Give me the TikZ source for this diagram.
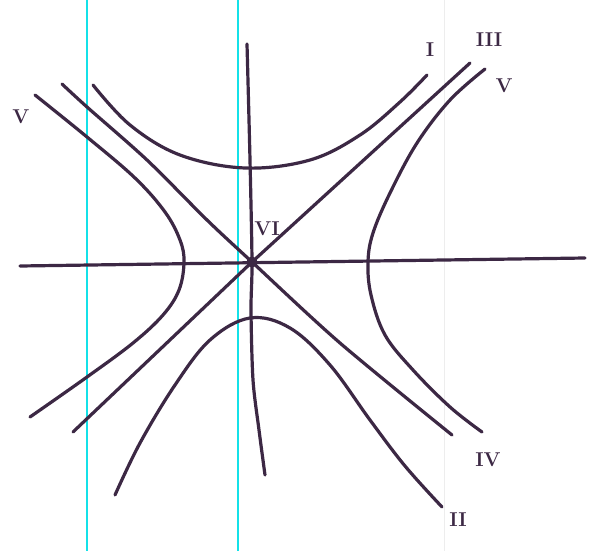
\documentclass[tikz,border=0pt]{standalone}
\begin{document}
\begin{tikzpicture}[x=1pt,y=-1pt,
  ink/.style={draw=inkc,line width=3.2pt,line cap=round,line join=round},
  guide/.style={draw=cyanc,line width=2pt},
  faint/.style={draw=black!7,line width=1pt},
  lab/.style={text=inkc,font=\fontsize{20}{22}\selectfont\bfseries,inner sep=0pt}]
\definecolor{inkc}{RGB}{60,40,68}
\definecolor{cyanc}{RGB}{20,225,232}
\fill[white] (0,0) rectangle (596,551);
\useasboundingbox (0,0) rectangle (596,551);
% guide lines
\draw[guide] (87,0) -- (87,551);
\draw[guide] (238,0) -- (238,551);
\draw[faint] (444,0) -- (444,551);
% axes
\draw[ink] (20,266) -- (585,258);
\draw[ink] plot[smooth,tension=0.5] coordinates {(247,44) (250,160) (252,262) (251,310) (253,380) (259,430) (265,475)};
% asymptotes
\draw[ink] plot[smooth,tension=0.5] coordinates {(62,84) (87,107) (147,160) (207,220) (252,262) (340,343) (452,435)};
\draw[ink] (73,432) -- (252,262) -- (470,63);
% hyperbola I (top)
\draw[ink] plot[smooth,tension=0.6] coordinates {(93,85) (130,125) (180,155) (245,168) (310,160) (360,135) (400,102) (427,75)};
% hyperbola II (bottom)
\draw[ink] plot[smooth,tension=0.6] coordinates {(115,495) (140,443) (175,385) (210,340) (250,318) (290,328) (330,365) (370,420) (405,466) (442,507)};
% left hyperbola V
\draw[ink] plot[smooth,tension=0.6] coordinates {(35,95) (87,137) (135,178) (165,212) (180,240) (184,262) (179,290) (163,315) (133,343) (87,377) (30,417)};
% right hyperbola
\draw[ink] plot[smooth,tension=0.6] coordinates {(485,69) (450,100) (417,143) (390,193) (373,233) (368,262) (371,295) (385,335) (413,370) (450,407) (482,432)};
% centre
\fill[inkc] (252,262) circle (5.5);
% labels
\node[lab] (lI) at (430,50) {I};
\node[lab] (lIII) at (489,40) {III};
\node[lab] (lVr) at (504,86) {V};
\node[lab] (lVl) at (21,117) {V};
\node[lab] (lVI) at (267,229) {VI};
\node[lab] (lIV) at (488,460) {IV};
\node[lab] (lII) at (458,520) {II};
\end{tikzpicture}
\end{document}
